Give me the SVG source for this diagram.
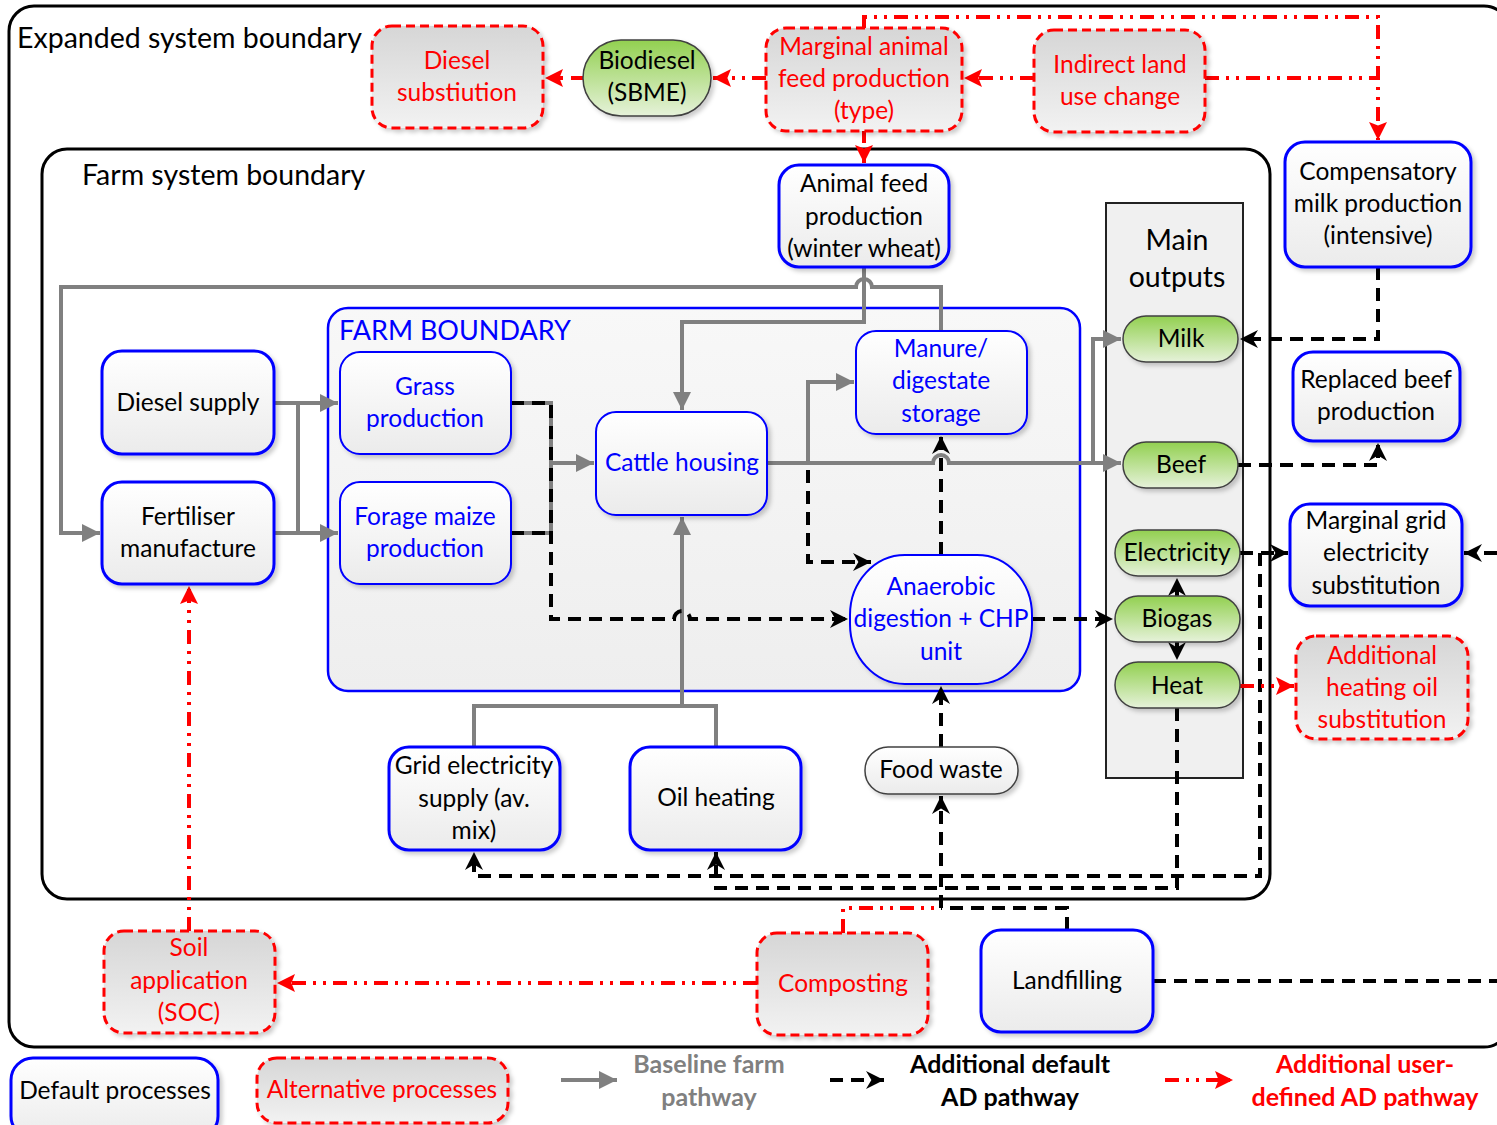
<svg xmlns="http://www.w3.org/2000/svg" width="1497" height="1125" viewBox="0 0 1497 1125">
<defs>
<linearGradient id="gW" x1="0" y1="0" x2="0" y2="1"><stop offset="0" stop-color="#ffffff"/><stop offset="1" stop-color="#ebebeb"/></linearGradient>
<linearGradient id="gA" x1="0" y1="0" x2="0" y2="1"><stop offset="0" stop-color="#d6d6d6"/><stop offset="1" stop-color="#f2f2f2"/></linearGradient>
<linearGradient id="gN" x1="0" y1="0" x2="0" y2="1"><stop offset="0" stop-color="#92d050"/><stop offset="1" stop-color="#e6f2da"/></linearGradient>
<linearGradient id="gF" x1="0" y1="0" x2="0" y2="1"><stop offset="0" stop-color="#f8f8f8"/><stop offset="1" stop-color="#eeeeee"/></linearGradient>
<filter id="sh" x="-10%" y="-10%" width="130%" height="130%"><feDropShadow dx="3" dy="3" stdDeviation="2" flood-color="#000" flood-opacity="0.2"/></filter>
<marker id="ag" viewBox="0 0 10 10" refX="10" refY="5" markerWidth="20" markerHeight="18" markerUnits="userSpaceOnUse" orient="auto"><path d="M0,0 L10,5 L0,10 z" fill="#808080"/></marker>
<marker id="ak" viewBox="0 0 10 10" refX="10" refY="5" markerWidth="20" markerHeight="18" markerUnits="userSpaceOnUse" orient="auto"><path d="M0,0 L10,5 L0,10 L3,5 z" fill="#000"/></marker>
<marker id="ar" viewBox="0 0 10 10" refX="10" refY="5" markerWidth="20" markerHeight="18" markerUnits="userSpaceOnUse" orient="auto"><path d="M0,0 L10,5 L0,10 L2,5 z" fill="#ff0000"/></marker>
</defs>
<style>
.def{fill:url(#gW);stroke:#0000ff;stroke-width:3;filter:url(#sh)}
.inn{fill:url(#gW);stroke:#0000ff;stroke-width:2;filter:url(#sh)}
.alt{fill:url(#gA);stroke:#ff0000;stroke-width:3;stroke-dasharray:9 5;filter:url(#sh)}
.out{fill:url(#gN);stroke:#404040;stroke-width:1.5;filter:url(#sh)}
.fw{fill:url(#gW);stroke:#404040;stroke-width:1.5;filter:url(#sh)}
text{font-family:Lato,"Liberation Sans",sans-serif;font-size:24.5px;fill:#000}
.c{text-anchor:middle}
.bl{fill:#0000ff}
.rd{fill:#ff0000}
.lg{font-size:28.5px}
.fb{font-size:27px}
.b{font-weight:bold;font-size:25px}
.g{stroke:#808080;stroke-width:4;fill:none}
.k{stroke:#000;stroke-width:4;fill:none;stroke-dasharray:13 8}
.r{stroke:#ff0000;stroke-width:4;fill:none;stroke-dasharray:14 7 3 7 3 7}
.rdash{stroke:#ff0000;stroke-width:4;fill:none;stroke-dasharray:12 8}
</style>

<g id="boundaries">
<rect x="9" y="6" width="1500" height="1041" rx="25" fill="none" stroke="#000" stroke-width="3"/>
<text x="17" y="48" class="lg">Expanded system boundary</text>
<rect x="42" y="149" width="1228" height="750" rx="25" fill="#fff" stroke="#000" stroke-width="3"/>
<text x="82" y="185" class="lg">Farm system boundary</text>
<rect x="328" y="308" width="752" height="383" rx="20" fill="url(#gF)" stroke="#0000ff" stroke-width="2.5"/>
<text x="339" y="340" class="fb bl">FARM BOUNDARY</text>
<rect x="1106" y="203" width="137" height="575" fill="#f0f0f0" stroke="#222" stroke-width="2"/>
<text x="1177" y="250" class="c lg">Main</text>
<text x="1177" y="287" class="c lg">outputs</text>
</g>

<g id="connectors">
<path class="g" d="M274,403 H338" marker-end="url(#ag)"/>
<path class="g" d="M274,533 H338" marker-end="url(#ag)"/>
<path class="g" d="M298,403 V533"/>
<path class="g" d="M941,331 V287 H872 A8,8 0 0 0 856,287 H61 V533 H100" marker-end="url(#ag)"/>
<path class="g" d="M864,267 V322 H682 V410" marker-end="url(#ag)"/>
<path class="g" d="M511,403 H551 V533 H511"/>
<path class="g" d="M551,463 H594" marker-end="url(#ag)"/>
<path class="g" d="M767,463 H933 A8,8 0 0 1 949,463 H1121" marker-end="url(#ag)"/>
<path class="g" d="M808,463 V382 H854" marker-end="url(#ag)"/>
<path class="g" d="M1093,463 V339 H1121" marker-end="url(#ag)"/>
<path class="g" d="M474,747 V706 H716 V747"/>
<path class="g" d="M682,706 V517" marker-end="url(#ag)"/>
<path class="k" d="M511,403 H551 V619 H674 A8,8 0 0 1 690,619 H848" marker-end="url(#ak)"/>
<path class="k" d="M511,533 H551"/>
<path class="k" d="M808,470 V562 H871" marker-end="url(#ak)"/>
<path class="k" d="M941,555 V436" marker-end="url(#ak)"/>
<path class="k" d="M1032,619 H1113" marker-end="url(#ak)"/>
<path class="k" d="M1177,596 V578" marker-end="url(#ak)"/>
<path class="k" d="M1177,642 V660" marker-end="url(#ak)"/>
<path class="k" d="M941,747 V686" marker-end="url(#ak)"/>
<path class="k" d="M941,908 V796" marker-end="url(#ak)"/>
<path class="k" d="M1067,930 V908 H941"/>
<path class="k" d="M1240,553 H1288" marker-end="url(#ak)"/>
<path class="k" d="M1260,553 V876 H474 V852" marker-end="url(#ak)"/>
<path class="k" d="M1177,708 V888 H716 V852" marker-end="url(#ak)"/>
<path class="k" d="M1238,465 H1378 V443" marker-end="url(#ak)"/>
<path class="k" d="M1378,267 V339 H1240" marker-end="url(#ak)"/>
<path class="k" d="M1153,981 H1497"/>
<path class="k" d="M1497,553 H1464" marker-end="url(#ak)"/>
<path class="r" d="M766,78 H713" marker-end="url(#ar)"/>
<path class="rdash" d="M583,78 H545" marker-end="url(#ar)"/>
<path class="r" d="M1034,78 H964" marker-end="url(#ar)"/>
<path class="rdash" d="M864,131 V163" marker-end="url(#ar)"/>
<path class="r" d="M864,28 V17 H1378 V140" marker-end="url(#ar)"/>
<path class="r" d="M1205,78 H1378"/>
<path class="r" d="M1240,686 H1294" marker-end="url(#ar)"/>
<path class="r" d="M757,983 H277" marker-end="url(#ar)"/>
<path class="r" d="M189,931 V586" marker-end="url(#ar)"/>
<path class="r" d="M843,933 V908 H941"/>
</g>

<g id="n-animal-feed"><rect class="def" x="779" y="165" width="170" height="102" rx="20"/>
<text x="864" y="192" class="c">Animal feed</text><text x="864" y="225" class="c">production</text><text x="864" y="257" class="c">(winter wheat)</text></g>
<g id="n-compensatory"><rect class="def" x="1285" y="142" width="186" height="125" rx="20"/>
<text x="1378" y="180" class="c">Compensatory</text><text x="1378" y="212" class="c">milk production</text><text x="1378" y="244" class="c">(intensive)</text></g>
<g id="n-diesel-supply"><rect class="def" x="102" y="351" width="172" height="103" rx="20"/>
<text x="188" y="411" class="c">Diesel supply</text></g>
<g id="n-fertiliser"><rect class="def" x="102" y="482" width="172" height="102" rx="20"/>
<text x="188" y="525" class="c">Fertiliser</text><text x="188" y="557" class="c">manufacture</text></g>
<g id="n-grass"><rect class="inn" x="340" y="352" width="171" height="102" rx="20"/>
<text x="425" y="395" class="c bl">Grass</text><text x="425" y="427" class="c bl">production</text></g>
<g id="n-forage"><rect class="inn" x="340" y="482" width="171" height="102" rx="20"/>
<text x="425" y="525" class="c bl">Forage maize</text><text x="425" y="557" class="c bl">production</text></g>
<g id="n-cattle"><rect class="inn" x="596" y="412" width="171" height="103" rx="20"/>
<text x="682" y="471" class="c bl">Cattle housing</text></g>
<g id="n-manure"><rect class="inn" x="856" y="331" width="171" height="103" rx="20"/>
<text x="941" y="357" class="c bl">Manure/</text><text x="941" y="389" class="c bl">digestate</text><text x="941" y="422" class="c bl">storage</text></g>
<g id="n-ad"><rect class="inn" x="850" y="555" width="182" height="129" rx="55" ry="60"/>
<text x="941" y="595" class="c bl">Anaerobic</text><text x="941" y="627" class="c bl">digestion + CHP</text><text x="941" y="660" class="c bl">unit</text></g>
<g id="n-replaced-beef"><rect class="def" x="1293" y="352" width="167" height="89" rx="20"/>
<text x="1376" y="388" class="c">Replaced beef</text><text x="1376" y="420" class="c">production</text></g>
<g id="n-marginal-grid"><rect class="def" x="1290" y="504" width="172" height="102" rx="20"/>
<text x="1376" y="529" class="c">Marginal grid</text><text x="1376" y="561" class="c">electricity</text><text x="1376" y="594" class="c">substitution</text></g>
<g id="n-grid-elec"><rect class="def" x="389" y="747" width="171" height="103" rx="20"/>
<text x="474" y="774" class="c">Grid electricity</text><text x="474" y="807" class="c">supply (av.</text><text x="474" y="839" class="c">mix)</text></g>
<g id="n-oil-heating"><rect class="def" x="630" y="747" width="171" height="103" rx="20"/>
<text x="716" y="806" class="c">Oil heating</text></g>
<g id="n-food-waste"><rect class="fw" x="865" y="747" width="153" height="47" rx="23"/>
<text x="941" y="778" class="c">Food waste</text></g>
<g id="n-landfilling"><rect class="def" x="981" y="930" width="172" height="102" rx="20"/>
<text x="1067" y="989" class="c">Landfilling</text></g>
<g id="n-milk"><rect class="out" x="1123" y="316" width="115" height="46" rx="23"/>
<text x="1181" y="347" class="c">Milk</text></g>
<g id="n-beef"><rect class="out" x="1123" y="442" width="115" height="46" rx="23"/>
<text x="1181" y="473" class="c">Beef</text></g>
<g id="n-electricity"><rect class="out" x="1115" y="530" width="125" height="46" rx="23"/>
<text x="1177" y="561" class="c">Electricity</text></g>
<g id="n-biogas"><rect class="out" x="1115" y="596" width="125" height="46" rx="23"/>
<text x="1177" y="627" class="c">Biogas</text></g>
<g id="n-heat"><rect class="out" x="1115" y="662" width="125" height="46" rx="23"/>
<text x="1177" y="694" class="c">Heat</text></g>
<g id="n-biodiesel"><rect class="out" x="583" y="40" width="128" height="76" rx="38"/>
<text x="647" y="69" class="c">Biodiesel</text><text x="647" y="101" class="c">(SBME)</text></g>
<g id="n-diesel-subst"><rect class="alt" x="372" y="26" width="171" height="102" rx="20"/>
<text x="457" y="69" class="c rd">Diesel</text><text x="457" y="101" class="c rd">substiution</text></g>
<g id="n-marginal-feed"><rect class="alt" x="766" y="28" width="196" height="103" rx="20"/>
<text x="864" y="55" class="c rd">Marginal animal</text><text x="864" y="87" class="c rd">feed production</text><text x="864" y="119" class="c rd">(type)</text></g>
<g id="n-iluc"><rect class="alt" x="1034" y="30" width="171" height="102" rx="20"/>
<text x="1120" y="73" class="c rd">Indirect land</text><text x="1120" y="105" class="c rd">use change</text></g>
<g id="n-heating-oil"><rect class="alt" x="1296" y="636" width="172" height="103" rx="20"/>
<text x="1382" y="664" class="c rd">Additional</text><text x="1382" y="696" class="c rd">heating oil</text><text x="1382" y="728" class="c rd">substitution</text></g>
<g id="n-soil"><rect class="alt" x="104" y="931" width="171" height="102" rx="20"/>
<text x="189" y="956" class="c rd">Soil</text><text x="189" y="989" class="c rd">application</text><text x="189" y="1021" class="c rd">(SOC)</text></g>
<g id="n-composting"><rect class="alt" x="757" y="933" width="171" height="102" rx="20"/>
<text x="843" y="992" class="c rd">Composting</text></g>

<g id="legend">
<rect class="def" x="11" y="1058" width="207" height="80" rx="22"/>
<text x="115" y="1099" class="c">Default processes</text>
<rect class="alt" x="257" y="1058" width="251" height="65" rx="20"/>
<text x="382" y="1098" class="c rd">Alternative processes</text>
<path class="g" d="M561,1080 H617" marker-end="url(#ag)"/>
<text x="709" y="1073" class="c b" style="fill:#808080">Baseline farm</text>
<text x="709" y="1106" class="c b" style="fill:#808080">pathway</text>
<path class="k" d="M830,1080 H884" marker-end="url(#ak)"/>
<text x="1010" y="1073" class="c b">Additional default</text>
<text x="1010" y="1106" class="c b">AD pathway</text>
<path class="r" d="M1165,1080 H1233" marker-end="url(#ar)"/>
<text x="1365" y="1073" class="c b rd">Additional user-</text>
<text x="1365" y="1106" class="c b rd">defined AD pathway</text>
</g>
</svg>
